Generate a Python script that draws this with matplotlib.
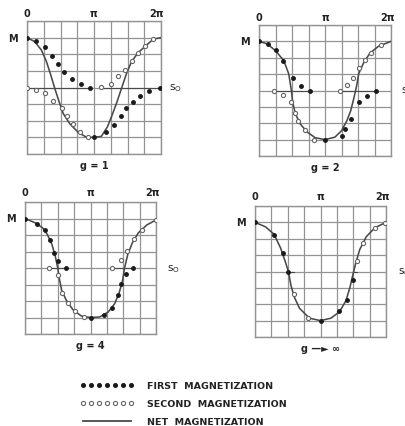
"""
Magnetization curves for g = 1, 2, 4 and g -> infinity
"""

import matplotlib.pyplot as plt
import numpy as np
from matplotlib.lines import Line2D

# x in units of pi, y in units of M (s0 = 0)

# g = 1
net1_x = [0, 0.115, 0.215, 0.29, 0.355, 0.415, 0.48, 0.54, 0.64, 0.765, 0.89, 1.0,
          1.11, 1.2, 1.26, 1.335, 1.41, 1.485, 1.56, 1.66, 1.785, 1.885, 2.0]
net1_y = [1.0, 0.92, 0.75, 0.52, 0.25, -0.02, -0.29, -0.52, -0.73, -0.9, -1.0, -1.0,
          -0.98, -0.79, -0.59, -0.32, -0.02, 0.28, 0.52, 0.70, 0.85, 0.97, 1.0]
first1a_x = [0, 0.14, 0.265, 0.375, 0.465, 0.545, 0.675, 0.805, 0.94]
first1a_y = [1.0, 0.93, 0.81, 0.64, 0.47, 0.32, 0.18, 0.07, 0.0]
first1b_x = [1.0, 1.185, 1.3, 1.4, 1.485, 1.585, 1.685, 1.82, 1.985]
first1b_y = [-1.0, -0.9, -0.75, -0.57, -0.42, -0.29, -0.17, -0.07, 0.0]
second1a_x = [0, 0.14, 0.275, 0.39, 0.515, 0.59, 0.69, 0.79, 0.905]
second1a_y = [0.0, -0.05, -0.12, -0.27, -0.42, -0.58, -0.73, -0.9, -1.0]
second1b_x = [1.11, 1.25, 1.36, 1.47, 1.56, 1.66, 1.76, 1.885]
second1b_y = [0.02, 0.08, 0.24, 0.36, 0.53, 0.70, 0.84, 0.97]

# g = 2
net2_x = [0, 0.125, 0.25, 0.375, 0.45, 0.49, 0.51, 0.55, 0.625, 0.725, 0.85, 1.0,
          1.15, 1.25, 1.33, 1.39, 1.44, 1.48, 1.51, 1.58, 1.68, 1.81, 2.0]
net2_y = [1.0, 0.95, 0.81, 0.61, 0.34, 0.01, -0.24, -0.47, -0.68, -0.84, -0.96, -1.0,
          -0.95, -0.82, -0.62, -0.41, -0.14, 0.1, 0.34, 0.55, 0.76, 0.9, 1.0]
first2a_x = [0, 0.13, 0.25, 0.37, 0.51, 0.63, 0.77]
first2a_y = [1.0, 0.94, 0.82, 0.6, 0.25, 0.09, 0.0]
first2b_x = [1.0, 1.25, 1.3, 1.39, 1.52, 1.63, 1.78]
first2b_y = [-1.0, -0.92, -0.78, -0.59, -0.24, -0.12, 0.0]
second2a_x = [0.22, 0.36, 0.49, 0.55, 0.59, 0.69, 0.83]
second2a_y = [0.0, -0.09, -0.24, -0.45, -0.63, -0.81, -1.0]
second2b_x = [1.23, 1.33, 1.43, 1.51, 1.6, 1.7, 1.85]
second2b_y = [0.0, 0.11, 0.26, 0.45, 0.62, 0.77, 0.92]

# g = 4
net4_x = [0, 0.16, 0.27, 0.34, 0.41, 0.46, 0.5, 0.52, 0.56, 0.63, 0.73, 0.86, 1.0,
          1.14, 1.27, 1.37, 1.44, 1.49, 1.52, 1.57, 1.64, 1.73, 1.86, 2.0]
net4_y = [1.0, 0.91, 0.81, 0.68, 0.48, 0.25, 0.0, -0.19, -0.45, -0.65, -0.84, -0.97, -1.0,
          -0.99, -0.89, -0.72, -0.49, -0.25, 0.0, 0.28, 0.51, 0.71, 0.87, 0.97]
first4a_x = [0, 0.19, 0.3, 0.38, 0.45, 0.5, 0.63]
first4a_y = [1.0, 0.89, 0.76, 0.56, 0.3, 0.15, 0.0]
first4b_x = [1.0, 1.2, 1.33, 1.42, 1.47, 1.54, 1.65]
first4b_y = [-1.0, -0.94, -0.8, -0.55, -0.32, -0.12, 0.0]
second4a_x = [0.37, 0.5, 0.57, 0.65, 0.76, 0.9]
second4a_y = [0.0, -0.15, -0.5, -0.7, -0.87, -0.98]
second4b_x = [1.33, 1.47, 1.56, 1.66, 1.78, 2.0]
second4b_y = [0.0, 0.16, 0.35, 0.58, 0.77, 0.97]

# g -> infinity
netinf_x = [0, 0.16, 0.29, 0.39, 0.46, 0.51, 0.55, 0.6, 0.68, 0.83, 1.0,
            1.16, 1.29, 1.39, 1.45, 1.49, 1.54, 1.6, 1.7, 1.83, 2.0]
netinf_y = [1.0, 0.91, 0.76, 0.48, 0.21, 0.0, -0.29, -0.52, -0.75, -0.95, -1.0,
            -0.95, -0.82, -0.59, -0.32, -0.09, 0.18, 0.45, 0.71, 0.89, 1.0]
firstinfa_x = [0, 0.29, 0.42, 0.51]
firstinfa_y = [1.0, 0.75, 0.38, 0.0]
firstinfb_x = [1.0, 1.29, 1.4, 1.5]
firstinfb_y = [-1.0, -0.8, -0.59, -0.17]
secondinfa_x = [0.59, 0.81]
secondinfa_y = [-0.45, -0.95]
secondinfb_x = [1.55, 1.65, 1.83, 1.98]
secondinfb_y = [0.21, 0.58, 0.88, 0.98]

captions = ["g = 1", "g = 2", "g = 4", "g \u2014\u25ba \u221e"]
legend_labels = ["FIRST  MAGNETIZATION", "SECOND  MAGNETIZATION", "NET  MAGNETIZATION"]

W, H = 405, 427
GRID = "#939393"
NET = "#4a4a4a"


def add_panel(fig, box, net, firsts, seconds, caption, s_off, top_off):
    x0, y0, x1, y1 = box
    ax = fig.add_axes([x0 / W, 1 - y1 / H, (x1 - x0) / W, (y1 - y0) / H])
    ax.set_xlim(0, 2)
    ax.set_ylim(-4 / 3, 4 / 3)
    ax.set_xticks(np.arange(0, 2.01, 0.25))
    ax.set_yticks(np.linspace(-4 / 3, 4 / 3, 9))
    ax.tick_params(length=0, labelbottom=False, labelleft=False)
    ax.grid(True, color=GRID, lw=0.9)
    for sp in ax.spines.values():
        sp.set_color(GRID)
        sp.set_linewidth(1.0)

    # s0 segments between the start of second and the end of first magnetization
    for (fx, fy), (sx, sy) in zip(firsts, seconds):
        ax.plot([sx[0], fx[-1]], [0, 0], color=NET, lw=0.8, zorder=3)

    ax.plot(net[0], net[1], color=NET, lw=1.15, zorder=4)
    for fx, fy in firsts:
        ax.plot(fx, fy, 'o', ls='none', ms=2.5, color='#1a1a1a', zorder=5)
    for sx, sy in seconds:
        ax.plot(sx, sy, 'o', ls='none', ms=3.0, mfc='white', mec='#666666',
                mew=0.8, zorder=6)

    kw = dict(fontsize=7, fontweight='bold', color='#222222')
    for xf, lab in [(0, "0"), (0.5, "\u03c0"), (0.97, "2\u03c0")]:
        ax.annotate(lab, (xf, 1), xycoords='axes fraction', xytext=(0, top_off),
                    textcoords='offset points', ha='center', va='bottom', **kw)
    ax.annotate("M", (0, 1), xycoords=('axes fraction', 'data'), xytext=(-7, 0),
                textcoords='offset points', ha='right', va='center', **kw)
    ax.annotate(r"s$_\mathregular{O}$", (1, 0), xycoords=('axes fraction', 'data'),
                xytext=(s_off, 0), textcoords='offset points', ha='left',
                va='center', fontsize=7.5, color='#222222')
    ax.annotate(caption, (0.5, 0), xycoords='axes fraction', xytext=(0, -4),
                textcoords='offset points', ha='center', va='top', **kw)
    return ax


fig = plt.figure(figsize=(W / 100, H / 100), dpi=100)
fig.patch.set_facecolor('white')

add_panel(fig, (27, 22, 161, 155), (net1_x, net1_y),
          [(first1a_x, first1a_y), (first1b_x, first1b_y)],
          [(second1a_x, second1a_y), (second1b_x, second1b_y)], captions[0], 6, 2.5)
add_panel(fig, (259, 26, 391, 157), (net2_x, net2_y),
          [(first2a_x, first2a_y), (first2b_x, first2b_y)],
          [(second2a_x, second2a_y), (second2b_x, second2b_y)], captions[1], 7, 2.5)
add_panel(fig, (25, 203, 156, 335), (net4_x, net4_y),
          [(first4a_x, first4a_y), (first4b_x, first4b_y)],
          [(second4a_x, second4a_y), (second4b_x, second4b_y)], captions[2], 8, 3.5)
add_panel(fig, (255, 207, 386, 338), (netinf_x, netinf_y),
          [(firstinfa_x, firstinfa_y), (firstinfb_x, firstinfb_y)],
          [(secondinfa_x, secondinfa_y), (secondinfb_x, secondinfb_y)], captions[3], 9, 3.5)

handles = [
    Line2D([], [], ls='none', marker='o', ms=2.6, color='#1a1a1a'),
    Line2D([], [], ls='none', marker='o', ms=3.0, mfc='white', mec='#666666', mew=0.8),
    Line2D([], [], color=NET, lw=1.3),
]
leg = fig.legend(handles, legend_labels, loc='upper left',
                 bbox_to_anchor=(72 / W, 1 - 374 / H), numpoints=7,
                 handlelength=5.6, handletextpad=1.4, labelspacing=0.95,
                 frameon=False, prop=dict(size=6.8, weight='bold'))
for t in leg.get_texts():
    t.set_color('#222222')

fig.savefig("out.png", dpi=100)
